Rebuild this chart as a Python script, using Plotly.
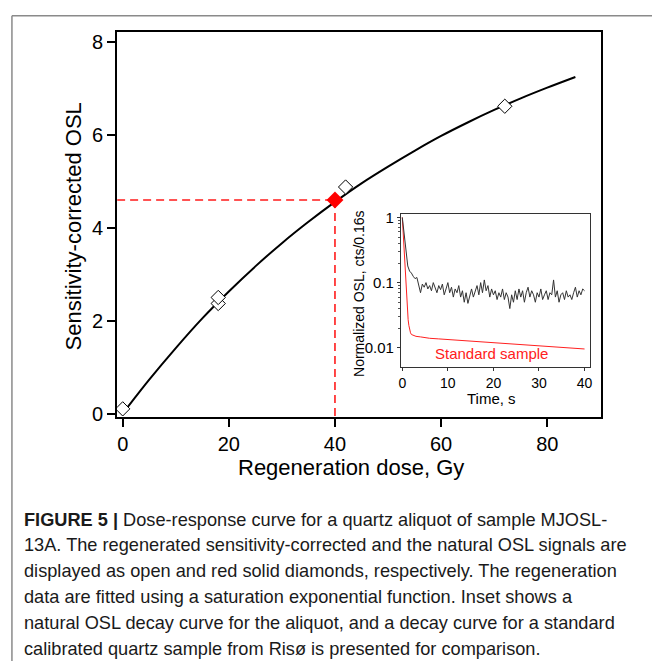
import plotly.graph_objects as go

# ---------------- data ----------------
# Regenerated (open diamonds)
REGEN_DOSE = [0, 18, 18, 42, 72]
REGEN_SIGNAL = [0.10, 2.37, 2.50, 4.88, 6.62]
# Natural signal (red solid diamond)
NATURAL_DOSE = [40]
NATURAL_SIGNAL = [4.6]
# Saturating-exponential fit
FIT_DOSE = [0, 5, 10, 15, 20, 25, 30, 35, 40, 45, 50, 55, 60, 65, 70, 75, 80, 85.3]
FIT_SIGNAL = [0.0, 0.73, 1.41, 2.05, 2.63, 3.17, 3.67, 4.13, 4.56, 4.96, 5.32, 5.66,
              5.98, 6.27, 6.54, 6.79, 7.02, 7.25]

# Inset: natural OSL decay of the aliquot (black)
ALIQUOT_TIME = [0.0, 0.4, 0.8, 1.2, 1.6, 2.0, 2.4, 2.8, 3.2, 3.6, 4.0, 4.4, 4.8, 5.2, 5.6,
                6.0, 6.4, 6.8, 7.2, 7.6, 8.0, 8.4, 8.8, 9.2, 9.6, 10.0, 10.4, 10.8, 11.2,
                11.6, 12.0, 12.4, 12.8, 13.2, 13.6, 14.0, 14.4, 14.8, 15.2, 15.6, 16.0,
                16.4, 16.8, 17.2, 17.6, 18.0, 18.4, 18.8, 19.2, 19.6, 20.0, 20.4, 20.8,
                21.2, 21.6, 22.0, 22.4, 22.8, 23.2, 23.6, 24.0, 24.4, 24.8, 25.2, 25.6,
                26.0, 26.4, 26.8, 27.2, 27.6, 28.0, 28.4, 28.8, 29.2, 29.6, 30.0, 30.4,
                30.8, 31.2, 31.6, 32.0, 32.4, 32.8, 33.2, 33.6, 34.0, 34.4, 34.8, 35.2,
                35.6, 36.0, 36.4, 36.8, 37.2, 37.6, 38.0, 38.4, 38.8, 39.2, 39.6, 40.0]
ALIQUOT_OSL = [1.0, 0.52, 0.27, 0.18, 0.15, 0.14, 0.125, 0.115, 0.12, 0.095, 0.07, 0.095,
               0.085, 0.1, 0.08, 0.09, 0.075, 0.1, 0.085, 0.07, 0.09, 0.078, 0.095, 0.065,
               0.08, 0.1, 0.07, 0.085, 0.06, 0.08, 0.07, 0.09, 0.06, 0.075, 0.05, 0.07,
               0.048, 0.065, 0.08, 0.06, 0.075, 0.09, 0.065, 0.1, 0.07, 0.11, 0.075, 0.09,
               0.06, 0.08, 0.065, 0.075, 0.055, 0.07, 0.06, 0.08, 0.055, 0.07, 0.06, 0.04,
               0.065, 0.05, 0.075, 0.055, 0.08, 0.06, 0.075, 0.05, 0.07, 0.085, 0.06, 0.075,
               0.065, 0.05, 0.07, 0.06, 0.08, 0.055, 0.065, 0.075, 0.055, 0.07, 0.065, 0.11,
               0.06, 0.075, 0.05, 0.065, 0.07, 0.055, 0.075, 0.06, 0.065, 0.055, 0.07, 0.085,
               0.06, 0.075, 0.065, 0.08, 0.075]
# Inset: standard sample decay (red)
STD_TIME = [0, 0.16, 0.32, 0.48, 0.64, 0.8, 0.96, 1.12, 1.28, 1.44, 1.6, 1.8, 2.0, 2.5, 3,
            4, 5, 6, 8, 10, 12, 15, 18, 20, 22, 25, 28, 30, 32, 35, 38, 40]
STD_OSL = [1.0, 0.62, 0.38, 0.22, 0.13, 0.08, 0.052, 0.036, 0.027, 0.022, 0.019, 0.017,
           0.016, 0.0155, 0.015, 0.0147, 0.0143, 0.014, 0.0137, 0.0134, 0.013, 0.0126,
           0.0122, 0.012, 0.0117, 0.0113, 0.011, 0.0108, 0.0105, 0.0102, 0.0099, 0.0096]

X_TICKS = [0, 20, 40, 60, 80]
Y_TICKS = [0, 2, 4, 6, 8]
INSET_X_TICKS = [0, 10, 20, 30, 40]
INSET_Y_TICKS = [0.01, 0.1, 1]
INSET_Y_LABELS = ["0.01", "0.1", "1"]

CAPTION = [
    "<b>FIGURE 5 |</b> Dose-response curve for a quartz aliquot of sample MJOSL-",
    "13A. The regenerated sensitivity-corrected and the natural OSL signals are",
    "displayed as open and red solid diamonds, respectively. The regeneration",
    "data are fitted using a saturation exponential function. Inset shows a",
    "natural OSL decay curve for the aliquot, and a decay curve for a standard",
    "calibrated quartz sample from Risø is presented for comparison.",
]

# ---------------- layout geometry ----------------
W, H = 654, 668
X_RANGE = [-1.05, 90.2]
Y_RANGE = [-0.085, 8.23]


def px(x):
    return x / W


def py(y):
    return 1 - y / H


FONT = "Liberation Sans, Arial, Helvetica, sans-serif"

fig = go.Figure()

# dashed guide lines for the natural signal
fig.add_trace(go.Scatter(x=[X_RANGE[0], NATURAL_DOSE[0]], y=[NATURAL_SIGNAL[0]] * 2,
                         mode="lines", line=dict(color="#ff1a1a", width=1.6, dash="8px,5px"),
                         showlegend=False, hoverinfo="skip"))
fig.add_trace(go.Scatter(x=[NATURAL_DOSE[0]] * 2, y=[NATURAL_SIGNAL[0], Y_RANGE[0]],
                         mode="lines", line=dict(color="#ff1a1a", width=1.6, dash="8px,5px"),
                         showlegend=False, hoverinfo="skip"))
# fit curve
fig.add_trace(go.Scatter(x=FIT_DOSE, y=FIT_SIGNAL, mode="lines", line_shape="spline",
                         line=dict(color="black", width=2), showlegend=False))
# regenerated points
fig.add_trace(go.Scatter(x=REGEN_DOSE, y=REGEN_SIGNAL, mode="markers",
                         marker=dict(symbol="diamond", size=11, color="white",
                                     line=dict(color="black", width=1)),
                         showlegend=False))
# natural point
fig.add_trace(go.Scatter(x=NATURAL_DOSE, y=NATURAL_SIGNAL, mode="markers",
                         marker=dict(symbol="diamond", size=13, color="#ff0000",
                                     line=dict(color="#ff0000", width=0)),
                         showlegend=False))

# inset curves
fig.add_trace(go.Scatter(x=STD_TIME, y=STD_OSL, mode="lines", xaxis="x2", yaxis="y2",
                         line=dict(color="#ff2020", width=1), showlegend=False))
fig.add_trace(go.Scatter(x=ALIQUOT_TIME, y=ALIQUOT_OSL, mode="lines", xaxis="x2", yaxis="y2",
                         line=dict(color="#333333", width=1), showlegend=False))

fig.update_layout(
    width=W, height=H,
    margin=dict(l=0, r=0, t=0, b=0),
    paper_bgcolor="white", plot_bgcolor="rgba(0,0,0,0)",
    font=dict(family=FONT, color="black"),
    xaxis=dict(domain=[px(115), px(603)], range=X_RANGE, tickvals=X_TICKS,
               ticks="outside", ticklen=8, tickwidth=2, tickcolor="black",
               showline=True, linecolor="black", linewidth=2, mirror=True,
               showgrid=False, zeroline=False, tickfont=dict(size=20), anchor="y"),
    yaxis=dict(domain=[py(420), py(27)], range=Y_RANGE, tickvals=Y_TICKS,
               ticks="outside", ticklen=8, tickwidth=2, tickcolor="black",
               showline=True, linecolor="black", linewidth=2, mirror=True,
               showgrid=False, zeroline=False, tickfont=dict(size=20), anchor="x"),
    xaxis2=dict(domain=[px(401), px(592)], range=[-0.3, 41.3], tickvals=INSET_X_TICKS,
                ticks="outside", ticklen=3, tickwidth=1, tickcolor="#333",
                showline=True, linecolor="#333", linewidth=1, mirror=True,
                showgrid=False, zeroline=False, tickfont=dict(size=14), anchor="y2"),
    yaxis2=dict(domain=[py(369), py(213)], type="log", range=[-2.30, 0.05],
                tickvals=INSET_Y_TICKS, ticktext=INSET_Y_LABELS,
                ticks="outside", ticklen=3, tickwidth=1, tickcolor="#333",
                minor=dict(ticks="outside", ticklen=2, tickcolor="#555",
                           tickvals=[0.02, 0.03, 0.04, 0.05, 0.06, 0.07, 0.08, 0.09,
                                     0.2, 0.3, 0.4, 0.5, 0.6, 0.7, 0.8, 0.9]),
                showline=True, linecolor="#333", linewidth=1, mirror=True,
                showgrid=False, zeroline=False, tickfont=dict(size=15), anchor="x2"),
)

# inset background
fig.add_shape(type="rect", xref="paper", yref="paper", layer="below",
              x0=px(401), x1=px(592), y0=py(369), y1=py(213),
              fillcolor="white", line=dict(width=0))

annotations = [
    dict(text="Regeneration dose, Gy", x=px(351), y=py(471), font=dict(size=22)),
    dict(text="Sensitivity-corrected OSL", x=px(72), y=py(225), textangle=-90,
         font=dict(size=22)),
    dict(text="Normalized OSL, cts/0.16s", x=px(358), y=py(294), textangle=-90,
         font=dict(size=14)),
    dict(text="Time, s", x=px(492), y=py(401), font=dict(size=15)),
    dict(text="Standard sample", x=px(492), y=py(355), font=dict(size=15, color="#ff2020")),
]
for a in annotations:
    fig.add_annotation(xref="paper", yref="paper", showarrow=False,
                       xanchor="center", yanchor="middle", **a)

CAP_FONT = "Liberation Sans, Arial, sans-serif"
for i, line in enumerate(CAPTION):
    fig.add_annotation(xref="paper", yref="paper", showarrow=False, text=line,
                       x=px(19), y=py(524 + i * 26.3), xanchor="left", yanchor="middle",
                       font=dict(size=18.2, family=CAP_FONT, color="#1a1a1a"))

# page frame (top and left edges)
fig.add_shape(type="line", xref="paper", yref="paper", x0=px(9), x1=1, y0=py(11), y1=py(11),
              line=dict(color="#8a8a8a", width=1.5))
fig.add_shape(type="line", xref="paper", yref="paper", x0=px(9), x1=px(9), y0=py(11), y1=0,
              line=dict(color="#8a8a8a", width=1.5))

fig.write_html("out.html")
